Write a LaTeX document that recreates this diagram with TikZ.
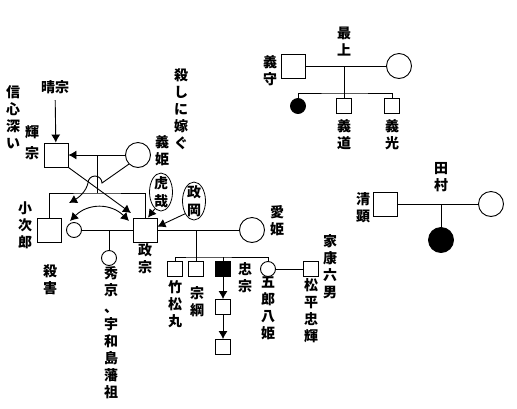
\documentclass[tikz,border=0pt]{standalone}
\usepackage{fontspec}
\usepackage{tikz}
\usetikzlibrary{shapes.geometric}
\usetikzlibrary{arrows.meta}
\newfontfamily\jpfont{Noto Sans CJK JP}
\tikzstyle{every node}=[inner sep=0pt]
\tikzstyle{man}=[draw=black,line width=0.9pt,minimum size=24pt]
\tikzstyle{boy}=[draw=black,line width=0.9pt,minimum size=15pt]
\tikzstyle{woman}=[draw=black,line width=0.9pt,circle,minimum size=25pt]
\tikzstyle{girl}=[draw=black,line width=0.9pt,circle,minimum size=15pt]
\tikzstyle{heir}=[fill=black]
\tikzstyle{txt}=[font=\jpfont\bfseries\fontsize{14}{17}\selectfont,align=center]
\tikzstyle{tutor}=[draw=black,line width=0.8pt,ellipse,inner sep=-4pt,minimum width=23pt,minimum height=38pt,font=\jpfont\bfseries\fontsize{14}{18}\selectfont,align=center]
\tikzstyle{arr}=[-{Latex[length=8pt,width=9pt]}]
\tikzstyle{arrs}=[{Latex[length=8pt,width=9pt]}-{Latex[length=8pt,width=9pt]}]

\begin{document}
\begin{tikzpicture}[x=1pt,y=-1pt,line width=0.9pt]
  \useasboundingbox (0,0) rectangle (517,408);
  % Mogami
  \node[man] (yoshimori) at (293,66) {};
  \node[woman] (mogamiw) at (399,66) {};
  \node[girl,heir] (mdau) at (298,106) {};
  \node[boy] (yoshimichi) at (344,106) {};
  \node[boy] (yoshiaki) at (392,106) {};
  \node[txt] (mogami) at (344,42) {最\\上};
  \node[txt] (yoshimorilbl) at (270,71) {義\\守};
  \node[txt] (yoshimichilbl) at (344,135) {義\\道};
  \node[txt] (yoshiakilbl) at (392,135) {義\\光};
  \coordinate (mgbar) at (344,93);
  \draw (yoshimori) -- (mogamiw);
  \draw (yoshimori -| yoshimichi) -- (yoshimichi);
  \draw (mdau) |- (mgbar) -| (yoshiaki);
  % Tamura
  \node[man] (kiyoaki) at (385,204) {};
  \node[woman] (tamuraw) at (491,204) {};
  \node[woman,heir] (tdau) at (441,240) {};
  \node[txt] (tamura) at (441,177) {田\\村};
  \node[txt] (kiyoakilbl) at (363,208) {清\\顕};
  \draw (kiyoaki) -- (tamuraw);
  \draw (kiyoaki -| tdau) -- (tdau);
  % Date
  \node[txt] (harumune) at (55,87) {晴宗};
  \node[txt] (shinjin) at (13,117) {信\\心\\深\\い};
  \node[man] (terumune) at (56,155) {};
  \node[txt] (terulbl) at (32,143) {輝\\[4pt]宗};
  \node[woman] (yoshihime) at (138,155) {};
  \node[txt] (yoshilbl) at (162,151) {義\\姫};
  \node[txt] (korosu) at (181,109) {殺\\し\\に\\嫁\\ぐ};
  \node[man] (kojiro) at (49,230) {};
  \node[txt] (kojilbl) at (25,225) {小\\次\\郎};
  \node[txt] (satsugai) at (50,280) {殺\\害};
  \node[girl] (wife) at (74,230) {};
  \node[man] (masamune) at (145,230) {};
  \node[txt] (masalbl) at (145,259) {政\\宗};
  \node[girl] (hidemune) at (109,258) {};
  \node[txt] (hidelbl) at (111,333) {秀\\京\\、\\宇\\和\\島\\藩\\祖};
  \node[tutor] (kosai) at (161,192) {虎\\哉};
  \node[tutor] (masaoka) at (194,201) {政\\岡};
  \coordinate (tm) at (97,155);
  \coordinate (tbar) at (97,193);
  \coordinate (tipm) at (131,213);
  \coordinate (tipk) at (69,203);
  \coordinate (dl) at (70,221);
  \coordinate (dr) at (129,221);
  \draw[arr,shorten <=6pt] (harumune) -- (terumune);
  \draw[arr] (yoshihime) -- (terumune);
  \draw (tm) -- (tbar);
  \draw (kojiro) |- (tbar) -| (masamune);
  \draw[arr] (terumune.south east) -- (tipm);
  \draw[arr] (yoshihime.225) -- (102,183) arc[start angle=0,end angle=180,radius=7pt]
    .. controls (86,192) and (78,198) .. (tipk);
  \draw[arrs] (dl) .. controls (88,203) and (111,203) .. (dr);
  \draw[arr] (kosai.250) -- ([xshift=3pt]masamune.north);
  \draw[arr] (masaoka.235) -- (masamune.15);
  \draw (wife) -- (masamune);
  \draw (wife -| hidemune) -- (hidemune);
  % children of Masamune
  \node[woman] (megohime) at (252,230) {};
  \node[txt] (megolbl) at (277,221) {愛\\姫};
  \node[txt] (ieyasu) at (330,267) {家\\康\\六\\男};
  \node[boy] (takematsu) at (175,269) {};
  \node[boy] (munetsuna) at (196,269) {};
  \node[boy,heir] (tadamune) at (223,269) {};
  \node[girl] (irohahime) at (268,269) {};
  \node[boy] (tadateru) at (311,269) {};
  \node[boy] (tc1) at (223,307) {};
  \node[boy] (tc2) at (223,347) {};
  \node[txt] (takelbl) at (175,304) {竹\\松\\丸};
  \node[txt] (munelbl) at (197,302) {宗\\綱};
  \node[txt] (tadalbl) at (245,278) {忠\\宗};
  \node[txt] (irohalbl) at (268,308) {五\\郎\\八\\姫};
  \node[txt] (teruolbl) at (311,311) {松\\平\\忠\\輝};
  \coordinate (mbar) at (196,257);
  \draw (masamune) -- (megohime);
  \draw (masamune -| munetsuna) -- (munetsuna);
  \draw (takematsu) |- (mbar) -| (irohahime);
  \draw (tadamune |- mbar) -- (tadamune);
  \draw (irohahime) -- (tadateru);
  \draw[arr] (tadamune) -- (tc1);
  \draw[arr] (tc1) -- (tc2);
\end{tikzpicture}
\end{document}
